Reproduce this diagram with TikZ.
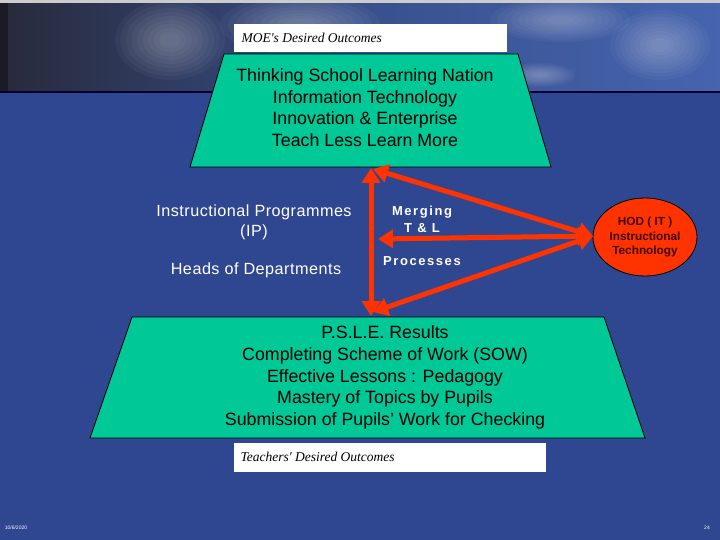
\documentclass[tikz,border=0pt]{standalone}
\usepackage{fontspec}
\setmainfont{Liberation Sans}
\newfontfamily\handfont{Liberation Serif}
\usetikzlibrary{arrows.meta,shapes.geometric}
\definecolor{bg}{RGB}{47,70,144}
\definecolor{tealg}{RGB}{0,200,150}
\definecolor{redarr}{RGB}{255,51,0}
\definecolor{hdark}{RGB}{40,42,58}
\definecolor{hblue}{RGB}{70,100,175}
\tikzset{
  shapebox/.style={fill=tealg,draw=black,line width=0.8pt},
  greentext/.style={align=center,font=\fontsize{17.8}{21.7}\selectfont,text=black},
  labelbox/.style={fill=white,draw=none},
  handtext/.style={anchor=west,font=\handfont\itshape\fontsize{13.5}{15}\selectfont,text=black},
  whitetext/.style={align=center,text=white,font=\fontsize{16.2}{20}\selectfont\addfontfeatures{LetterSpace=3}},
  spaced/.style={align=center,text=white,font=\bfseries\fontsize{13}{17}\selectfont\addfontfeatures{LetterSpace=12}},
  redline/.style={draw=redarr,line width=5pt,{Triangle[length=15pt,width=18pt]}-{Triangle[length=15pt,width=18pt]}},
  footer/.style={text=white,font=\fontsize{5}{6}\selectfont},
  cloud/.style={white,opacity=0.035}
}
\begin{document}
\begin{tikzpicture}[x=1pt,y=-1pt]
\useasboundingbox (0,0) rectangle (720,540);
% background
\fill[bg] (0,0) rectangle (720,540);
% header band
\shade[left color=hdark,right color=hblue,middle color=hblue!80!black] (0,0) rectangle (720,92);
\begin{scope}
\clip (0,0) rectangle (720,92);
\foreach \s in {1,0.9,0.8,0.7,0.6,0.5,0.4,0.3,0.2}{
  \fill[cloud] (170,40) ellipse ({55*\s} and {40*\s});
  \fill[cloud] (300,25) ellipse ({80*\s} and {30*\s});
  \fill[cloud] (560,20) ellipse ({70*\s} and {22*\s});
  \fill[cloud] (660,45) ellipse ({50*\s} and {35*\s});
  \fill[cloud] (540,75) ellipse ({35*\s} and {12*\s});
}
\end{scope}
\fill[black,opacity=0.35] (0,0) rectangle (8,92);
\fill[gray!40] (0,0) rectangle (720,3);
\draw[black!80!blue,line width=2pt] (0,92) -- (720,92);

% top white label
\node[labelbox,minimum width=273pt,minimum height=28pt,inner sep=0pt] (moebox) at (370.5,38) {};
\node[handtext] (moetext) at (238,38) {MOE's Desired Outcomes};

% top trapezoid
\coordinate (ttl) at (224,54);
\coordinate (ttr) at (518,54);
\coordinate (tbr) at (551,167);
\coordinate (tbl) at (190,167);
\draw[shapebox] (ttl) -- (ttr) -- (tbr) -- (tbl) -- cycle;
\node[greentext] (toptext) at (365,107.5) {Thinking School Learning Nation\\Information Technology\\Innovation \& Enterprise\\Teach Less Learn More};

% bottom trapezoid
\coordinate (btl) at (132,317);
\coordinate (btr) at (604,317);
\coordinate (bbr) at (645,438);
\coordinate (bbl) at (90,438);
\draw[shapebox] (btl) -- (btr) -- (bbr) -- (bbl) -- cycle;
\node[greentext] (bottext) at (385,377.5) {P.S.L.E. Results\\Completing Scheme of Work (SOW)\\Effective Lessons : Pedagogy\\Mastery of Topics by Pupils\\Submission of Pupils' Work for Checking};

% bottom white label
\node[labelbox,minimum width=312pt,minimum height=29pt,inner sep=0pt] (tchbox) at (390,457.5) {};
\node[handtext] (tchtext) at (237,457) {Teachers' Desired Outcomes};

% left texts
\node[whitetext] (ip) at (254,222) {Instructional Programmes\\(IP)};
\node[whitetext] (hod) at (256,270) {Heads of Departments};

% middle texts
\node[spaced] (merge) at (422,219.5) {Merging\\T \& L};
\node[spaced] (proc) at (422,261) {Processes};

% ellipse
\node[ellipse,fill=redarr,draw=black,line width=0.8pt,minimum width=104pt,minimum height=78pt,inner sep=0pt,align=center,
  font=\bfseries\fontsize{11.8}{14.6}\selectfont,text=black!75!red] (hodit) at (645,237) {HOD ( IT )\\Instructional\\Technology};

% arrow anchor points
\coordinate (vtop) at (371,168);
\coordinate (vbot) at (371,316);
\coordinate (dtop) at (373,169);
\coordinate (dmid) at (378,239);
\coordinate (dbot) at (373,312);
\coordinate (hw) at (593,236);

\draw[redline] (vtop) -- (vbot);
\draw[redline] (dtop) -- (hw);
\draw[redline] (dmid) -- (hw);
\draw[redline] (dbot) -- (hw);

% footer
\node[footer] (date) at (16,528) {10/6/2020};
\node[footer] (page) at (707,528) {24};
\end{tikzpicture}
\end{document}
